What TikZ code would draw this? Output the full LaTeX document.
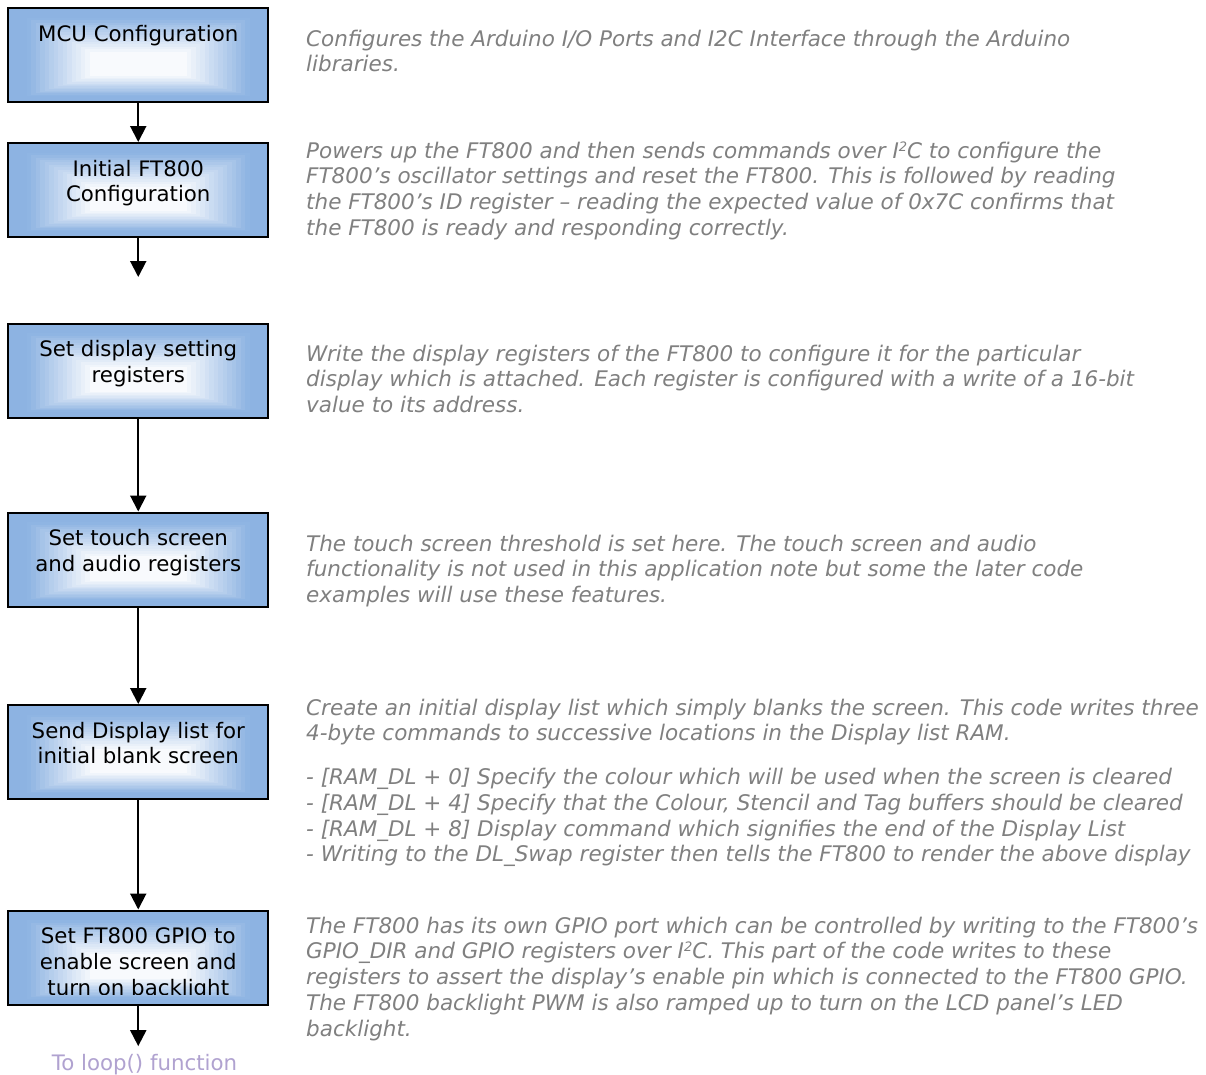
\documentclass[tikz,border=0pt]{standalone}
\usepackage{fontspec}
\setmainfont{DejaVu Sans}
\usetikzlibrary{arrows.meta,calc}
\definecolor{boxblue}{RGB}{141,179,226}
\definecolor{desctext}{RGB}{128,128,128}
\definecolor{loopc}{RGB}{176,162,208}
\newcommand{\mysz}{\fontsize{21.3bp}{25.7bp}\selectfont}
\newcommand{\mydsz}{\fontsize{21.5bp}{25.7bp}\selectfont}
\newcommand{\suptwo}{\raisebox{0.6ex}{\fontsize{13bp}{13bp}\selectfont 2}}
\begin{document}
\begin{tikzpicture}[x=1bp,y=-1bp,
 stepbox/.style={draw=black, line width=2bp, minimum width=259.5bp, minimum height=94bp, inner sep=0pt,
   path picture={
     \coordinate (cnw) at ($(path picture bounding box.center)+(-44bp,1bp)$);
     \coordinate (cse) at ($(path picture bounding box.center)+(44bp,-20bp)$);
     \foreach \i in {0,...,18}{
       \pgfmathsetmacro\gt{\i/19}
       \pgfmathtruncatemacro\gp{min(100,125*(1-\gt))}
       \fill[boxblue!\gp!white]
         ($(path picture bounding box.north west)!\gt!(cnw)$) rectangle
         ($(path picture bounding box.south east)!\gt!(cse)$);
     }
   }},
 boxtxt/.style={anchor=north, align=center, inner sep=0pt, font=\mysz, text=black},
 desc/.style={anchor=north west, align=left, inner sep=0pt, font=\mydsz\itshape, text=desctext},
 flow/.style={line width=2bp, -{Triangle[length=16bp,width=16bp]}}
]
\useasboundingbox (0,0) rectangle (1206,1075);
\fill[white] (0,0) rectangle (1206,1075);

\node[stepbox] (b1) at (138.25,55) {};
\node[stepbox] (b2) at (138.25,190) {};
\node[stepbox] (b3) at (138.25,370.5) {};
\node[stepbox] (b4) at (138.25,559.5) {};
\node[stepbox] (b5) at (138.25,752) {};
\node[stepbox] (b6) at (138.25,957.5) {};

\node[boxtxt] (t1) at ($(b1.north)+(0,16)$) {\strut MCU Configuration};
\node[boxtxt] (t2) at ($(b2.north)+(0,16)$) {\strut Initial FT800\\Configuration};
\node[boxtxt] (t3) at ($(b3.north)+(0,16)$) {\strut Set display setting\\registers};
\node[boxtxt] (t4) at ($(b4.north)+(0,16)$) {\strut Set touch screen\\and audio registers};
\node[boxtxt] (t5) at ($(b5.north)+(0,16)$) {\strut Send Display list for\\initial blank screen};
\begin{scope}
\clip (8,910) rectangle (268,994);
\node[boxtxt] (t6) at ($(b6.north)+(0,16)$) {\strut Set FT800 GPIO to\\enable screen and\\turn on backlight};
\end{scope}

\coordinate (e2) at (138.25,277);
\node[anchor=base, inner sep=0pt, inner ysep=7.5bp, font=\mysz, text=loopc] (loop) at (144.5,1070) {To loop() function};

\draw[flow] (b1) -- (b2);
\draw[flow] (b2) -- (e2);
\draw[flow] (b3) -- (b4);
\draw[flow] (b4) -- (b5);
\draw[flow] (b5) -- (b6);
\draw[flow] (b6.south) -- (b6.south |- loop.north);

\node[desc] (d1) at (306,28) {\strut Configures the Arduino I/O Ports and I2C Interface through the Arduino\\libraries.};
\node[desc] (d2) at (306,140) {\strut Powers up the FT800 and then sends commands over I\suptwo C to configure the\\FT800’s oscillator settings and reset the FT800. This is followed by reading\\the FT800’s ID register – reading the expected value of 0x7C confirms that\\the FT800 is ready and responding correctly.};
\node[desc] (d3) at (306,343) {\strut Write the display registers of the FT800 to configure it for the particular\\display which is attached. Each register is configured with a write of a 16-bit\\value to its address.};
\node[desc] (d4) at (306,533) {\strut The touch screen threshold is set here. The touch screen and audio\\functionality is not used in this application note but some the later code\\examples will use these features.};
\node[desc] (d5) at (306,697) {\strut Create an initial display list which simply blanks the screen. This code writes three\\4-byte commands to successive locations in the Display list RAM.\\[18bp]- [RAM\_DL + 0] Specify the colour which will be used when the screen is cleared\\- [RAM\_DL + 4] Specify that the Colour, Stencil and Tag buffers should be cleared\\- [RAM\_DL + 8] Display command which signifies the end of the Display List\\- Writing to the DL\_Swap register then tells the FT800 to render the above display};
\node[desc] (d6) at (306,915) {\strut The FT800 has its own GPIO port which can be controlled by writing to the FT800’s\\GPIO\_DIR and GPIO registers over I\suptwo C. This part of the code writes to these\\registers to assert the display’s enable pin which is connected to the FT800 GPIO.\\The FT800 backlight PWM is also ramped up to turn on the LCD panel’s LED\\backlight.};
\end{tikzpicture}
\end{document}
